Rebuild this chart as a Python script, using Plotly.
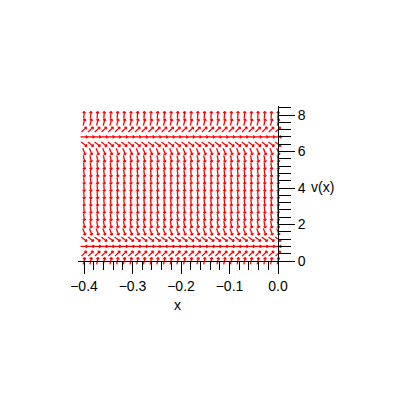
import numpy as np
import plotly.graph_objects as go

# direction field for dv/dx = K * p * |p|, p = (v - A)(v - B)
A = 0.8   # lower equilibrium
B = 6.8   # upper equilibrium
K = 4.0

# arrow grid
x_cols = np.linspace(-0.4, 0.0, 30)
v_rows = [0.0, 0.4, 0.8, 1.2, 1.6, 2.0, 2.4, 2.8, 3.2, 3.6, 4.0,
          4.4, 4.8, 5.2, 5.6, 6.0, 6.4, 6.8, 7.2, 7.6, 8.0]

x_ticks = [-0.4, -0.3, -0.2, -0.1, 0.0]
x_ticktext = ["\u22120.4", "\u22120.3", "\u22120.2", "\u22120.1", "0.0"]
v_ticks = [0, 2, 4, 6, 8]

# plot geometry (pixels, in page coords); the page body adds 8px offset
OFF = 8
W, H = 415, 415
ml, mr, mt, mb = 78, 133, 106, 150
pw, ph = W - ml - mr, H - mt - mb
sx = 485.0    # px per x unit
sy = 18.25    # px per v unit
x0 = -0.4 - (84 - ml) / sx
x1 = x0 + pw / sx
v1 = 8 + (115 - mt) / sy
v0 = v1 - ph / sy

L = 7.0      # arrow length px
HL = 2.2     # head length px
ang = np.radians(40)

xs, ys = [], []
for v in v_rows:
    p = (v - A) * (v - B)
    f = K * p * abs(p)
    for x in x_cols:
        dxp, dyp = sx * 1.0, sy * f
        n = np.hypot(dxp, dyp)
        ux, uy = dxp / n, dyp / n
        tx, ty = x - L / 2 * ux / sx, v - L / 2 * uy / sy
        hx, hy = x + L / 2 * ux / sx, v + L / 2 * uy / sy
        xs += [tx, hx, None]
        ys += [ty, hy, None]
        for s in (1, -1):
            c, sn = np.cos(s * ang), np.sin(s * ang)
            bx = -(ux * c - uy * sn)
            by = -(ux * sn + uy * c)
            xs += [hx, hx + HL * bx / sx, None]
            ys += [hy, hy + HL * by / sy, None]

fig = go.Figure()
fig.add_trace(go.Scatter(x=xs, y=ys, mode="lines",
                         line=dict(color="#ff0000", width=1.3),
                         hoverinfo="skip", showlegend=False))

font = dict(family="Liberation Sans, Arial, sans-serif", size=14, color="black")

fig.update_layout(
    width=W, height=H,
    margin=dict(l=ml - OFF, r=mr + OFF, t=mt - OFF, b=mb + OFF),
    plot_bgcolor="white", paper_bgcolor="white",
    font=font,
    xaxis=dict(range=[x0, x1], anchor="free", position=(265 - 261) / ph,
               showline=True, linecolor="black", linewidth=1,
               showgrid=False, zeroline=False,
               tickvals=x_ticks, ticktext=x_ticktext,
               ticks="outside", ticklen=12, tickcolor="black", tickwidth=1,
               minor=dict(dtick=0.02, tick0=0, ticks="outside", ticklen=8,
                          tickcolor="black", tickwidth=1, showgrid=False),
               tickfont=font),
    yaxis=dict(range=[v0, v1], anchor="free", side="right",
               position=(278 - ml) / pw,
               showline=True, linecolor="black", linewidth=1,
               showgrid=False, zeroline=False,
               tickvals=v_ticks,
               ticks="outside", ticklen=16, tickcolor="black", tickwidth=1,
               minor=dict(dtick=0.4, tick0=0, ticks="outside", ticklen=12,
                          tickcolor="black", tickwidth=1, showgrid=False),
               tickfont=font),
    annotations=[
        dict(text="x", xref="paper", yref="paper",
             x=(177 - ml) / pw, y=(265 - 305) / ph,
             showarrow=False, font=font, xanchor="center", yanchor="middle"),
        dict(text="v(x)", xref="paper", yref="y",
             x=(309 - ml) / pw, y=4.05,
             showarrow=False, font=font, xanchor="left", yanchor="middle"),
    ],
)

fig.write_html("out.html")
